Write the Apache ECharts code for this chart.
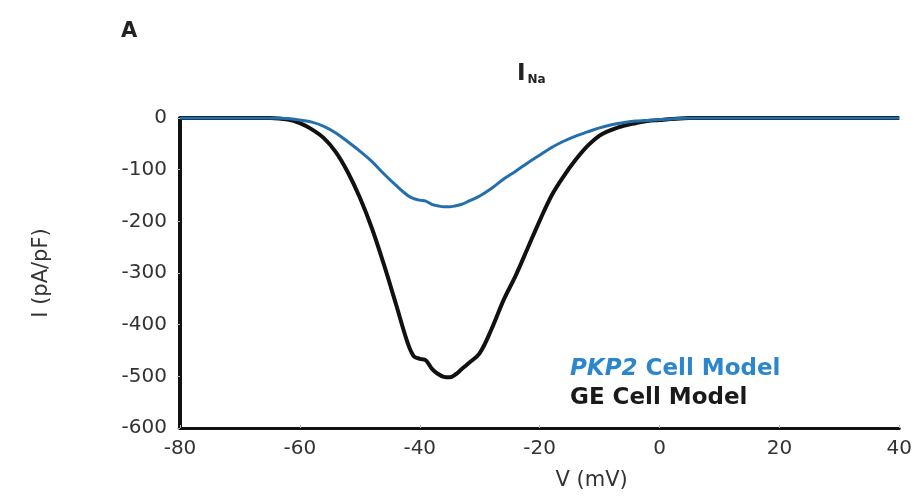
<!DOCTYPE html>
<html>
<head>
<meta charset="utf-8">
<script src="https://cdn.jsdelivr.net/npm/echarts@6/dist/echarts.min.js"></script>
<style>
  html, body { margin: 0; padding: 0; background: #fff; }
  #chart { width: 915px; height: 501px; }
</style>
</head>
<body>
<div id="chart"></div>
<script>
// voltage steps (mV)
var voltages = [-80, -70, -65, -62, -60, -58, -56, -54, -52, -50, -48, -46, -44, -42, -41, -40, -39, -38, -37, -36, -35, -34, -33, -32, -30, -28, -26, -24, -22, -20, -18, -16, -14, -12, -10, -8, -6, -4, -2, 0, 2, 5, 10, 20, 40];
// GE cell model I_Na (pA/pF)
var geCurrent = [0, 0, 0, -3, -10, -22, -39, -66, -105, -154, -213, -283, -359, -436, -461, -466, -469, -485, -495, -501, -502, -496, -486, -476, -455, -408, -352, -305, -252, -199, -150, -113, -81, -54, -34, -23, -15, -10, -6, -4, -2, 0, 0, 0, 0];
// PKP2 cell model I_Na (pA/pF)
var pkp2Current = [0, 0, 0, -1, -4, -8, -16, -29, -46, -64, -84, -108, -130, -150, -156, -159, -161, -167, -170, -172, -172, -170, -167, -162, -151, -136, -118, -103, -87, -72, -57, -45, -35, -27, -19, -13, -9, -6, -5, -3, -2, 0, 0, 0, 0];
var xTicks = [-80, -60, -40, -20, 0, 20, 40];
var yTicks = [0, -100, -200, -300, -400, -500, -600];

function pairs(xs, ys) {
    return xs.map(function (x, i) { return [x, ys[i]]; });
}

var font = 'DejaVu Sans, Liberation Sans, sans-serif';

var option = {
    animation: false,
    backgroundColor: '#fff',
    title: [{
        text: 'A',
        left: 116,
        top: 16,
        textStyle: { fontFamily: font, fontSize: 21, fontWeight: 'bold', color: '#222' }
    }, {
        text: '{i|I}{s|Na}',
        left: 512,
        top: 58,
        textStyle: {
            rich: {
                i: { fontFamily: font, fontSize: 23, fontWeight: 'bold', color: '#222' },
                s: { fontFamily: font, fontSize: 12, fontWeight: 'bold', color: '#222', verticalAlign: 'bottom', padding: [10, 0, 0, 2] }
            }
        }
    }],
    legend: {
        orient: 'vertical',
        left: 560,
        top: 353,
        icon: 'none',
        itemWidth: 0,
        itemGap: 6,
        selectedMode: false,
        data: [
            { name: 'PKP2 Cell Model', textStyle: { color: '#2b86cc' } },
            { name: 'GE Cell Model', textStyle: { color: '#1a1a1a' } }
        ],
        formatter: function (name) {
            if (name === 'PKP2 Cell Model') return '{it|PKP2}{n| Cell Model}';
            return '{b|' + name + '}';
        },
        textStyle: {
            fontFamily: font,
            fontSize: 23,
            fontWeight: 'bold',
            rich: {
                it: { fontFamily: font, fontSize: 23, fontWeight: 'bold', fontStyle: 'italic', color: '#2b86cc' },
                n: { fontFamily: font, fontSize: 23, fontWeight: 'bold', color: '#2b86cc' },
                b: { fontFamily: font, fontSize: 23, fontWeight: 'bold', color: '#1a1a1a' }
            }
        }
    },
    grid: { left: 180, right: 15, top: 118, bottom: 73 },
    xAxis: {
        type: 'value',
        min: -80,
        max: 40,
        interval: 20,
        name: 'V (mV)',
        nameLocation: 'middle',
        nameGap: 42,
        nameTextStyle: { fontFamily: font, fontSize: 21, color: '#333', padding: [0, 0, 0, 104] },
        axisLine: { onZero: false, lineStyle: { color: '#111', width: 3 } },
        axisTick: { inside: true, length: 3, lineStyle: { color: '#bbb' } },
        splitLine: { show: false },
        axisLabel: {
            fontFamily: font, fontSize: 20, color: '#333', margin: 11,
            formatter: function (v) { return xTicks.indexOf(v) >= 0 ? v : ''; }
        }
    },
    yAxis: {
        type: 'value',
        min: -600,
        max: 0,
        interval: 100,
        name: 'I (pA/pF)',
        nameLocation: 'middle',
        nameGap: 128,
        nameTextStyle: { fontFamily: font, fontSize: 21, color: '#333' },
        axisLine: { show: true, onZero: false, lineStyle: { color: '#111', width: 4 } },
        axisTick: { show: true, inside: false, length: 3, lineStyle: { color: '#bbb' } },
        splitLine: { show: false },
        axisLabel: {
            fontFamily: font, fontSize: 20, color: '#333', margin: 13,
            formatter: function (v) { return yTicks.indexOf(v) >= 0 ? v : ''; }
        }
    },
    series: [{
        name: 'GE Cell Model',
        type: 'line',
        data: pairs(voltages, geCurrent),
        smooth: 0.35,
        showSymbol: false,
        lineStyle: { color: '#111', width: 4 },
        itemStyle: { color: '#111' },
        z: 2
    }, {
        name: 'PKP2 Cell Model',
        type: 'line',
        data: pairs(voltages, pkp2Current),
        smooth: 0.35,
        showSymbol: false,
        lineStyle: { color: '#236fae', width: 3 },
        itemStyle: { color: '#236fae' },
        z: 3
    }]
};

var myChart = echarts.init(document.getElementById('chart'));
myChart.setOption(option);
</script>
</body>
</html>
